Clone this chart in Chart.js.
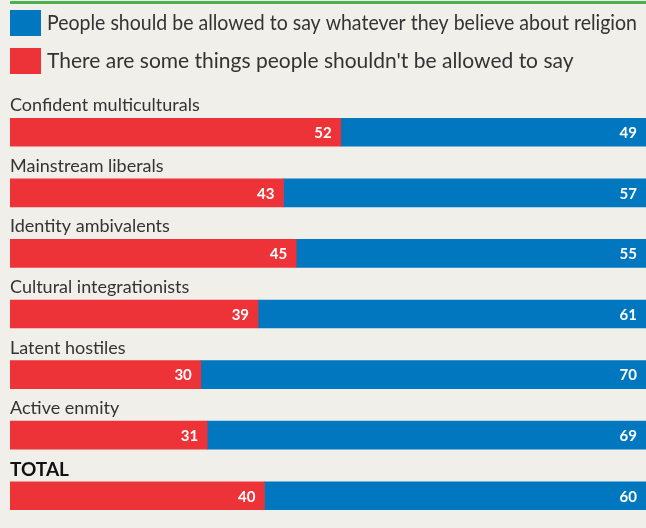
<!DOCTYPE html>
<html>
<head>
<meta charset="utf-8">
<script src="https://cdn.jsdelivr.net/npm/chart.js@4"></script>
<style>
  body { margin: 0; background: #f0efea; }
  #wrap { position: relative; width: 646px; height: 528px; overflow: hidden; background: #f0efea; }
  #rule { position: absolute; left: 10px; top: 1px; width: 636px; height: 3px; background: #4cb050; }
  #chart { position: absolute; left: 0; top: 0; }
</style>
</head>
<body>
<div id="wrap">
  <div id="rule"></div>
  <canvas id="chart" width="646" height="528"></canvas>
</div>
<script>
const categories = [
  'Confident multiculturals',
  'Mainstream liberals',
  'Identity ambivalents',
  'Cultural integrationists',
  'Latent hostiles',
  'Active enmity',
  'TOTAL'
];
const shouldntSay = [52, 43, 45, 39, 30, 31, 40];
const allowedToSay = [49, 57, 55, 61, 70, 69, 60];

const RED = '#ee3338';
const BLUE = '#0077be';
const FONT = 'Lato, "Open Sans", sans-serif';

// key at the top (blue row first), group names above bars, numbers at bar ends
const barText = {
  id: 'barText',
  afterDatasetsDraw(chart) {
    const { ctx, chartArea, scales: { y } } = chart;
    ctx.save();

    const keys = chart.data.datasets.slice().reverse();
    keys.forEach((ds, k) => {
      const top = 10 + k * 38;
      ctx.fillStyle = ds.backgroundColor;
      ctx.fillRect(10, top, 31, 26);
      ctx.font = '21px ' + FONT;
      ctx.fillStyle = '#333';
      ctx.textAlign = 'left';
      ctx.textBaseline = 'middle';
      ctx.fillText(ds.label, 47, top + 13, chart.width - 47 - 9);
    });

    categories.forEach((name, i) => {
      const cy = y.getPixelForValue(i);
      const isTotal = name === 'TOTAL';
      ctx.font = isTotal ? 'bold 19px ' + FONT : '18px ' + FONT;
      ctx.fillStyle = isTotal ? '#111' : '#333';
      ctx.textAlign = 'left';
      ctx.textBaseline = 'alphabetic';
      ctx.fillText(name, chartArea.left, cy - (isTotal ? 20 : 21));
    });

    ctx.font = 'bold 15px ' + FONT;
    ctx.fillStyle = '#fff';
    ctx.textAlign = 'right';
    ctx.textBaseline = 'middle';
    chart.data.datasets.forEach((ds, di) => {
      chart.getDatasetMeta(di).data.forEach((bar, i) => {
        const right = Math.min(bar.x, chartArea.right);
        ctx.fillText(String(ds.data[i]), right - 9, bar.y + 1);
      });
    });
    ctx.restore();
  }
};

new Chart(document.getElementById('chart'), {
  type: 'bar',
  data: {
    labels: categories,
    datasets: [
      { label: "There are some things people shouldn't be allowed to say", data: shouldntSay, backgroundColor: RED },
      { label: 'People should be allowed to say whatever they believe about religion', data: allowedToSay, backgroundColor: BLUE }
    ]
  },
  options: {
    indexAxis: 'y',
    responsive: false,
    animation: false,
    layout: { padding: { left: 10, right: 0, top: 102, bottom: 2 } },
    datasets: { bar: { barThickness: 28, borderWidth: 0 } },
    scales: {
      x: { stacked: true, min: 0, max: 100, display: false },
      y: { stacked: true, display: false }
    },
    plugins: {
      legend: { display: false },
      tooltip: { enabled: false }
    }
  },
  plugins: [barText]
});
</script>
</body>
</html>
